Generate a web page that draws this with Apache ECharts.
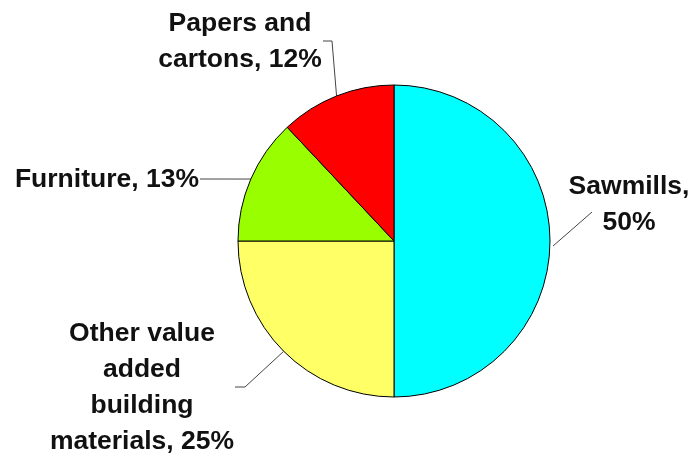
<!DOCTYPE html>
<html>
<head>
<meta charset="utf-8">
<script src="https://cdn.jsdelivr.net/npm/echarts@6/dist/echarts.min.js"></script>
<style>html,body{margin:0;padding:0;background:#fff;}#c{width:694px;height:460px;}</style>
</head>
<body>
<div id="c"></div>
<script>
var categories = ['Sawmills', 'Other value added building materials', 'Furniture', 'Papers and cartons'];
var values = [50, 25, 13, 12];
var labelTexts = ['Sawmills,\n50%', 'Other value\nadded\nbuilding\nmaterials, 25%', 'Furniture, 13%', 'Papers and\ncartons, 12%'];
var colors = ['#00FFFF', '#FFFF66', '#99FF00', '#FF0000'];

// label placement (position only)
var labelPos = [
  {x: 629, y: 205, align: 'center', bend: [[592, 212]], start: [553, 246]},
  {x: 142, y: 388, align: 'center', bend: [[245, 387], [235, 387]]},
  {x: 199, y: 180, align: 'right', bend: [[200, 179]]},
  {x: 240, y: 42, align: 'center', bend: [[332, 41], [323, 41]]}
];

var chart = echarts.init(document.getElementById('c'), null, {renderer: 'canvas'});
chart.setOption({
  animation: false,
  series: [{
    type: 'pie',
    center: [394, 241],
    radius: 156,
    startAngle: 90,
    clockwise: true,
    avoidLabelOverlap: false,
    itemStyle: {borderColor: '#000', borderWidth: 1},
    label: {
      show: true,
      position: 'outside',
      fontFamily: 'Liberation Sans, Arial, sans-serif',
      fontWeight: 'bold',
      fontSize: 26.5,
      lineHeight: 36,
      color: '#111',
      align: 'center',
      formatter: function (p) { return labelTexts[p.dataIndex]; }
    },
    labelLine: {show: true, lineStyle: {color: '#444', width: 1}, length: 20, length2: 10},
    labelLayout: function (params) {
      var lp = labelPos[params.dataIndex];
      var pts = params.labelLinePoints;
      var start = lp.start || (pts ? pts[0] : null);
      var out = {x: lp.x, y: lp.y, align: lp.align, verticalAlign: 'middle'};
      if (start) {
        out.labelLinePoints = [start].concat(lp.bend);
        if (out.labelLinePoints.length === 2) {
          out.labelLinePoints.push(lp.bend[0]);
        }
      }
      return out;
    },
    data: categories.map(function (c, i) {
      return {name: c, value: values[i], itemStyle: {color: colors[i]}};
    })
  }]
});
</script>
</body>
</html>
